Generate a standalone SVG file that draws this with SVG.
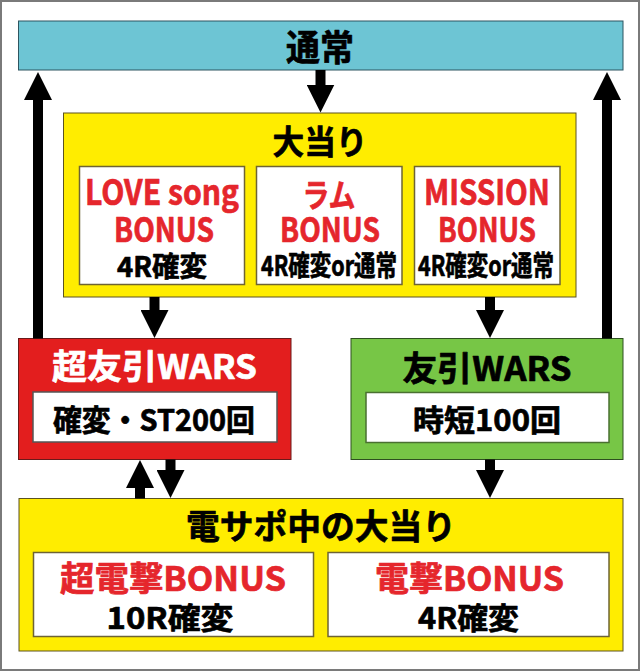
<svg xmlns="http://www.w3.org/2000/svg" width="641" height="672" viewBox="0 0 641 672">
<style>
text{font-family:"Noto Sans CJK JP","Noto Sans",sans-serif;font-weight:700;text-anchor:middle;dominant-baseline:central;stroke-width:0.7;stroke-linejoin:round}
.blk{fill:#000;stroke:#000}
.red{fill:#E5262C;stroke:#E5262C}
.wht{fill:#fff;stroke:#fff}
.yellow{fill:#FFED00;stroke:#5C5320;stroke-width:1}
.inner{fill:#fff;stroke:#6E6434;stroke-width:1.5}
.conn line{stroke:#000;stroke-width:10}
</style>
<defs>
<marker id="ah" markerUnits="userSpaceOnUse" markerWidth="28" markerHeight="28" refX="0.5" refY="14" orient="auto">
<path d="M0,0 L28,14 L0,28 Z" fill="#000"/>
</marker>
</defs>
<rect x="0" y="0" width="641" height="672" fill="#fff"/>
<rect x="1" y="1" width="638" height="669" fill="none" stroke="#7A7A7A" stroke-width="2"/>

<g id="normal">
<rect x="18.5" y="21" width="604.5" height="49" fill="#6DC5D4" stroke="#2D5560" stroke-width="1"/>
<text class="blk" x="320" y="45" font-size="36" textLength="68" lengthAdjust="spacingAndGlyphs">通常</text>
</g>

<g id="jackpot">
<rect class="yellow" x="63.5" y="113" width="512.5" height="184"/>
<text class="blk" x="320" y="140" font-size="33" textLength="95" lengthAdjust="spacingAndGlyphs">大当り</text>
<g id="love">
<rect class="inner" x="79.5" y="166.5" width="165" height="118"/>
<text class="red" x="162" y="189.5" font-size="35" textLength="154" lengthAdjust="spacingAndGlyphs">LOVE song</text>
<text class="red" x="164" y="227.5" font-size="34" textLength="100" lengthAdjust="spacingAndGlyphs">BONUS</text>
<text class="blk" x="162" y="265" font-size="28" textLength="90" lengthAdjust="spacingAndGlyphs">4R確変</text>
</g>
<g id="ram">
<rect class="inner" x="256.5" y="166.5" width="145.5" height="118"/>
<text class="red" x="329" y="192.5" font-size="32" textLength="53" lengthAdjust="spacingAndGlyphs">ラム</text>
<text class="red" x="330" y="227.5" font-size="34" textLength="100" lengthAdjust="spacingAndGlyphs">BONUS</text>
<text class="blk" x="329" y="264" font-size="28" textLength="136" lengthAdjust="spacingAndGlyphs">4R確変or通常</text>
</g>
<g id="mission">
<rect class="inner" x="414.5" y="166.5" width="145.5" height="118"/>
<text class="red" x="487" y="189.5" font-size="35" textLength="126" lengthAdjust="spacingAndGlyphs">MISSION</text>
<text class="red" x="487" y="227.5" font-size="34" textLength="98" lengthAdjust="spacingAndGlyphs">BONUS</text>
<text class="blk" x="486" y="264" font-size="28" textLength="136" lengthAdjust="spacingAndGlyphs">4R確変or通常</text>
</g>
</g>

<g id="super-wars">
<rect x="18.5" y="338.5" width="272.5" height="121" fill="#E31E1E" stroke="#6A1A1A" stroke-width="1"/>
<text class="wht" x="154.5" y="364" font-size="34" textLength="205" lengthAdjust="spacingAndGlyphs">超友引WARS</text>
<rect x="33" y="392" width="244" height="50" fill="#fff" stroke="#555" stroke-width="1.5"/>
<text class="blk" x="154" y="417.5" font-size="30" textLength="202" lengthAdjust="spacingAndGlyphs">確変・ST200回</text>
</g>

<g id="wars">
<rect x="351" y="338.5" width="272" height="121" fill="#77C646" stroke="#2E5020" stroke-width="1"/>
<text class="blk" x="487" y="366" font-size="34" textLength="169" lengthAdjust="spacingAndGlyphs">友引WARS</text>
<rect x="366" y="392.5" width="243" height="50" fill="#fff" stroke="#4A7030" stroke-width="1.5"/>
<text class="blk" x="487" y="418" font-size="30" textLength="148" lengthAdjust="spacingAndGlyphs">時短100回</text>
</g>

<g id="densapo">
<rect class="yellow" x="19" y="498.5" width="604" height="152.5"/>
<text class="blk" x="321" y="524" font-size="34" textLength="270" lengthAdjust="spacingAndGlyphs">電サポ中の大当り</text>
<g id="super-dengeki">
<rect class="inner" x="33.5" y="552.5" width="280" height="84"/>
<text class="red" x="173" y="576" font-size="34" textLength="226" lengthAdjust="spacingAndGlyphs">超電撃BONUS</text>
<text class="blk" x="170" y="616" font-size="30" textLength="127" lengthAdjust="spacingAndGlyphs">10R確変</text>
</g>
<g id="dengeki">
<rect class="inner" x="328" y="552.5" width="281" height="84"/>
<text class="red" x="469.5" y="576" font-size="34" textLength="189" lengthAdjust="spacingAndGlyphs">電撃BONUS</text>
<text class="blk" x="468.5" y="616" font-size="30" textLength="101" lengthAdjust="spacingAndGlyphs">4R確変</text>
</g>
</g>

<g id="connectors" class="conn">
<line x1="320.5" y1="70" x2="320.5" y2="85" marker-end="url(#ah)"/>
<line x1="38" y1="338.5" x2="38" y2="99.5" marker-end="url(#ah)"/>
<line x1="607" y1="338.5" x2="607" y2="99.5" marker-end="url(#ah)"/>
<line x1="154.5" y1="297" x2="154.5" y2="310.5" marker-end="url(#ah)"/>
<line x1="490" y1="297" x2="490" y2="310.5" marker-end="url(#ah)"/>
<line x1="140" y1="498.5" x2="140" y2="487.5" marker-end="url(#ah)"/>
<line x1="170.5" y1="459.5" x2="170.5" y2="470.5" marker-end="url(#ah)"/>
<line x1="490" y1="459.5" x2="490" y2="470.5" marker-end="url(#ah)"/>
</g>
</svg>
